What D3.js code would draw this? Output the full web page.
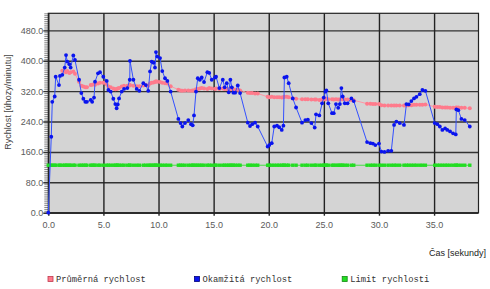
<!DOCTYPE html>
<html>
<head>
<meta charset="utf-8">
<script src="https://cdn.jsdelivr.net/npm/d3@7/dist/d3.min.js"></script>
<style>
  html, body { margin: 0; padding: 0; background: #ffffff; }
  svg { display: block; }
</style>
</head>
<body>
<div id="chart"></div>
<script>
// ---- data ----
const times = [0.00,0.27,0.36,0.58,0.67,0.97,1.06,1.27,1.49,1.61,1.72,1.91,2.03,2.27,2.42,2.79,3.00,3.18,3.36,3.50,3.85,3.98,4.15,4.24,4.51,4.69,4.99,5.30,5.45,5.66,5.90,6.08,6.20,6.30,6.42,6.66,6.87,7.17,7.39,7.41,7.72,8.02,8.26,8.62,8.85,9.07,9.23,9.38,9.55,9.68,9.77,9.89,10.14,10.34,10.59,10.80,11.10,11.80,12.00,12.16,12.40,12.70,12.95,13.10,13.22,13.40,13.56,13.75,13.92,14.13,14.43,14.60,14.83,15.13,15.22,15.52,15.83,16.00,16.19,16.37,16.52,16.65,16.79,16.95,17.19,17.40,18.10,18.30,18.50,18.76,19.00,19.90,20.05,20.27,20.50,20.75,20.95,21.18,21.33,21.42,21.63,21.81,22.18,22.48,23.02,23.32,23.55,23.87,24.17,24.29,24.59,24.84,24.99,25.14,25.23,25.40,25.74,25.90,26.10,26.30,26.45,26.59,26.71,26.90,27.15,27.50,27.71,28.92,29.22,29.45,29.67,30.00,30.22,30.50,30.83,31.12,31.37,31.58,31.88,32.27,32.49,32.70,32.94,33.18,33.40,33.70,33.94,34.21,35.06,35.30,35.52,35.75,36.00,36.20,36.45,36.72,36.97,37.02,37.20,37.48,37.78,38.24];

const instantSpeed = [0,200,292,306,358,336,360,363,382,415,398,391,382,414,402,350,315,300,292,292,297,292,303,345,367,370,358,347,323,319,300,286,275,285,301,319,326,328,350,400,350,326,321,341,336,321,372,398,395,382,423,411,407,373,354,347,319,247,236,227,236,244,233,230,256,319,354,350,356,344,370,368,350,356,358,328,350,330,341,317,350,330,316,316,335,315,237,228,233,237,227,174,178,183,227,229,225,218,229,356,358,341,301,277,237,244,245,236,224,259,256,288,303,319,322,288,262,262,286,276,286,328,306,288,288,301,294,186,183,182,178,182,161,160,163,163,231,240,236,231,286,285,294,301,305,312,323,321,236,233,227,218,222,218,214,209,206,272,270,247,244,227];

const averageSpeed = [null,null,null,null,null,null,null,374,372,370,373,368,370,372,366,345,334,332,330,330,336,337,338,337,340,342,342,338,332,330,327,325,326,327,328,332,334,334,335,336,334,333,333,335,336,334,340,342,343,344,346,345,344,342,341,340,333,324,322,321,322,322,321,322,322,325,326,327,328,327,326,328,327,326,327,326,327,326,326,325,326,326,325,324,324,322,316,315,315,314,314,305,304,305,304,304,304,303,304,305,305,304,301,300,299,299,299,298,298,298,297,298,298,299,300,299,299,298,299,298,298,299,299,298,298,297,296,287,287,286,286,286,283,282,282,282,282,282,282,282,282,283,283,284,284,284,284,285,279,278,278,277,277,277,276,276,276,277,277,276,276,275];

const speedLimit = 125;

const xTicks = [0,5,10,15,20,25,30,35];
const yTicks = [0,80,160,240,320,400,480];

const legendLabels = ["Průměrná rychlost","Okamžitá rychlost","Limit rychlosti"];
const xTitle = "Čas [sekundy]";
const yTitle = "Rychlost [úhozy/minutu]";

// ---- layout ----
const W = 490, H = 289;
const pL = 48.3, pR = 478.5, pT = 13.3, pB = 212.7;
const plotW = pR - pL, plotH = pB - pT;

const colors = { avg: "#ff7b8c", avgLine: "#ff97a5", inst: "#0a14ee", instLine: "#3350ff", lim: "#22dd22", limLine: "#44dd44" };

const svg = d3.select("#chart").append("svg").attr("width", W).attr("height", H);

const x = d3.scaleLinear().domain([0, 39.03]).range([pL, pR]);
const y = d3.scaleLinear().domain([0, 525]).range([pB, pT]);

// plot background
svg.append("rect").attr("x", pL).attr("y", pT).attr("width", plotW).attr("height", plotH)
  .attr("fill", "#d4d4d4");

const tickFont = "Liberation Sans, Arial, sans-serif";

// minor y ticks
const minorVals = d3.range(0, 526, 5);
svg.append("g").attr("transform", `translate(${pL},0)`)
  .call(d3.axisLeft(y).tickValues(minorVals).tickSize(4).tickFormat(""))
  .call(g => g.select(".domain").remove())
  .call(g => g.selectAll("line").attr("stroke", "#8a8a8a").attr("stroke-width", 1));

// y axis + horizontal gridlines
const gy = svg.append("g").attr("transform", `translate(${pL},0)`)
  .call(d3.axisLeft(y).tickValues(yTicks).tickSize(-plotW).tickPadding(5).tickFormat(d3.format(".1f")));
gy.select(".domain").remove();
gy.selectAll(".tick line").attr("x1", -5).attr("stroke", "#333").attr("stroke-width", 1.4);
gy.selectAll(".tick text").attr("fill", "#5a5a5a").style("font-family", tickFont).style("font-size", "9px");

// x axis + vertical gridlines
const gx = svg.append("g").attr("transform", `translate(0,${pB})`)
  .call(d3.axisBottom(x).tickValues(xTicks).tickSize(-plotH).tickPadding(9).tickFormat(d3.format(".1f")));
gx.select(".domain").remove();
gx.selectAll(".tick line").attr("y1", 3).attr("stroke", "#222").attr("stroke-width", 1.4);
gx.selectAll(".tick text").attr("fill", "#5a5a5a").style("font-family", tickFont).style("font-size", "9px");

// plot border
svg.append("rect").attr("x", pL).attr("y", pT).attr("width", plotW).attr("height", plotH)
  .attr("fill", "none").attr("stroke", "#222").attr("stroke-width", 1.2);

// axis titles
svg.append("text").attr("transform", `translate(11,102) rotate(-90)`)
  .attr("text-anchor", "middle").attr("fill", "#444")
  .style("font-family", tickFont).style("font-size", "9px").text(yTitle);
svg.append("text").attr("x", 486).attr("y", 255.5).attr("text-anchor", "end").attr("fill", "#222")
  .style("font-family", tickFont).style("font-size", "9px").text(xTitle);

// ---- series ----
const idx = d3.range(Math.min(times.length, instantSpeed.length));

// limit (green)
const limLine = d3.line().x(i => x(times[i])).y(() => y(speedLimit));
svg.append("path").attr("d", limLine(idx)).attr("fill", "none").attr("stroke", colors.limLine).attr("stroke-width", 1);
svg.append("g").selectAll("rect").data(idx).join("rect")
  .attr("x", i => x(times[i]) - 1.7).attr("y", y(speedLimit) - 1.7)
  .attr("width", 3.4).attr("height", 3.4).attr("fill", colors.lim);

// average (pink)
const avgIdx = idx.filter(i => averageSpeed[i] != null);
const avgLine = d3.line().x(i => x(times[i])).y(i => y(averageSpeed[i]));
svg.append("path").attr("d", avgLine(avgIdx)).attr("fill", "none").attr("stroke", colors.avgLine).attr("stroke-width", 1);
svg.append("g").selectAll("circle").data(avgIdx).join("circle")
  .attr("cx", i => x(times[i])).attr("cy", i => y(averageSpeed[i]))
  .attr("r", 2).attr("fill", colors.avg);

// instantaneous (blue)
const instLine = d3.line().x(i => x(times[i])).y(i => y(instantSpeed[i]));
svg.append("path").attr("d", instLine(idx)).attr("fill", "none").attr("stroke", colors.instLine).attr("stroke-width", 1);
svg.append("g").selectAll("circle").data(idx).join("circle")
  .attr("cx", i => x(times[i])).attr("cy", i => y(instantSpeed[i]))
  .attr("r", 1.9).attr("fill", colors.inst);

// ---- legend ----
const legendX = [47.5, 194, 341.7];
const legendFill = [colors.avg, colors.inst, colors.lim];
const legendStroke = ["#c0394d", "#00007a", "#138a13"];
const lg = svg.append("g");
legendLabels.forEach((lab, k) => {
  lg.append("rect").attr("x", legendX[k] + 0.5).attr("y", 276.5).attr("width", 5).attr("height", 5)
    .attr("fill", legendFill[k]).attr("stroke", legendStroke[k]).attr("stroke-width", 0.8);
  lg.append("text").attr("x", legendX[k] + 8.5).attr("y", 281.5).attr("fill", "#333")
    .style("font-family", "Liberation Mono, Courier New, monospace").style("font-size", "8.8px").text(lab);
});
</script>
</body>
</html>
